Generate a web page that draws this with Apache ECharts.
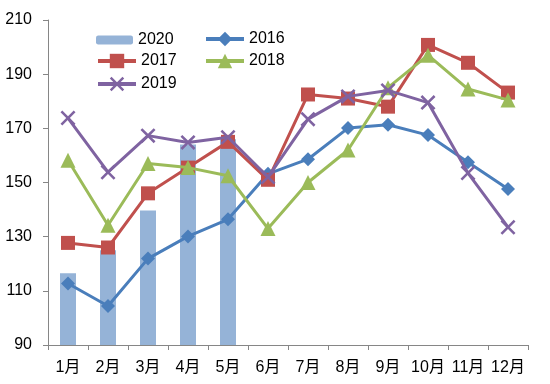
<!DOCTYPE html>
<html>
<head>
<meta charset="utf-8">
<script src="https://cdn.jsdelivr.net/npm/echarts@6/dist/echarts.min.js"></script>
<style>html,body{margin:0;padding:0;background:#fff}#c{width:550px;height:384px}</style>
</head>
<body>
<div id="c"></div>
<script>
var months = ['1月','2月','3月','4月','5月','6月','7月','8月','9月','10月','11月','12月'];
var s2020 = [116.5, 125, 139.7, 164, 166, null, null, null, null, null, null, null];
var s2016 = [112.7, 104.4, 121.9, 130.1, 136.4, 153.2, 158.6, 170.1, 171.3, 167.5, 157.5, 147.6];
var s2017 = [127.7, 126, 146, 155.5, 165, 151, 182.5, 181, 178, 200.8, 194.2, 183.2];
var s2018 = [158.2, 134.2, 157, 155.5, 152.5, 133, 150, 162, 185, 197, 184.5, 180.5];
var s2019 = [173.8, 153.8, 167.3, 164.8, 166.7, 152, 173.4, 181.8, 184, 179.5, 153.5, 133.5];
var yMin = 90, yMax = 210, yStep = 20;

var FONT = 'Liberation Sans, Noto Sans CJK SC, sans-serif';
var XMARK = 'path://M0,1.2 L1.2,0 L5,3.8 L8.8,0 L10,1.2 L6.2,5 L10,8.8 L8.8,10 L5,6.2 L1.2,10 L0,8.8 L3.8,5 Z';
var C = {
  b2020: '#95B3D7', c2016: '#4A7EBB', c2017: '#C0504D', c2018: '#9BBB59', c2019: '#7F63A1'
};

function leg(name, left, top, extra) {
  var o = {
    data: [name], left: left, top: top, itemWidth: 38, itemHeight: 18, itemGap: 3,
    padding: 0,
    lineStyle: { width: 4 },
    textStyle: { fontSize: 16, color: '#000', fontFamily: FONT, padding: [0,0,0,0] }
  };
  for (var k in extra) o[k] = extra[k];
  return o;
}

var chart = echarts.init(document.getElementById('c'), null, { renderer: 'canvas' });
chart.setOption({
  animation: false,
  backgroundColor: '#fff',
  legend: [
    leg('2020', 96, 32, { itemHeight: 9, itemWidth: 37 }),
    leg('2016', 204, 31),
    leg('2017', 96, 53),
    leg('2018', 204, 53),
    leg('2019', 96, 76)
  ],
  grid: { left: 48, right: 22, top: 20, bottom: 39, containLabel: false },
  xAxis: {
    type: 'category', data: months,
    axisLine: { lineStyle: { color: '#868686', width: 1 } },
    axisTick: { show: true, length: 5, lineStyle: { color: '#868686' } },
    axisLabel: { fontSize: 16, color: '#000', fontFamily: FONT, margin: 15, interval: 0 }
  },
  yAxis: {
    type: 'value', min: yMin, max: yMax, interval: yStep,
    splitLine: { show: false },
    axisLine: { show: true, lineStyle: { color: '#868686', width: 1 } },
    axisTick: { show: true, length: 5, lineStyle: { color: '#868686' } },
    axisLabel: { fontSize: 16, color: '#000', fontFamily: FONT, margin: 16 }
  },
  series: [
    { name: '2020', type: 'bar', data: s2020, barWidth: 16, itemStyle: { color: C.b2020 }, z: 1 },
    { name: '2016', type: 'line', data: s2016, symbol: 'diamond', symbolSize: 14,
      lineStyle: { color: C.c2016, width: 3 }, itemStyle: { color: C.c2016 }, z: 2 },
    { name: '2017', type: 'line', data: s2017, symbol: 'rect', symbolSize: 14,
      lineStyle: { color: C.c2017, width: 3 }, itemStyle: { color: C.c2017 }, z: 3 },
    { name: '2018', type: 'line', data: s2018, symbol: 'triangle', symbolSize: 15,
      lineStyle: { color: C.c2018, width: 3 }, itemStyle: { color: C.c2018 }, z: 4 },
    { name: '2019', type: 'line', data: s2019, symbol: XMARK, symbolSize: 15,
      lineStyle: { color: C.c2019, width: 3 }, itemStyle: { color: C.c2019 }, z: 5 }
  ]
});
</script>
</body>
</html>
